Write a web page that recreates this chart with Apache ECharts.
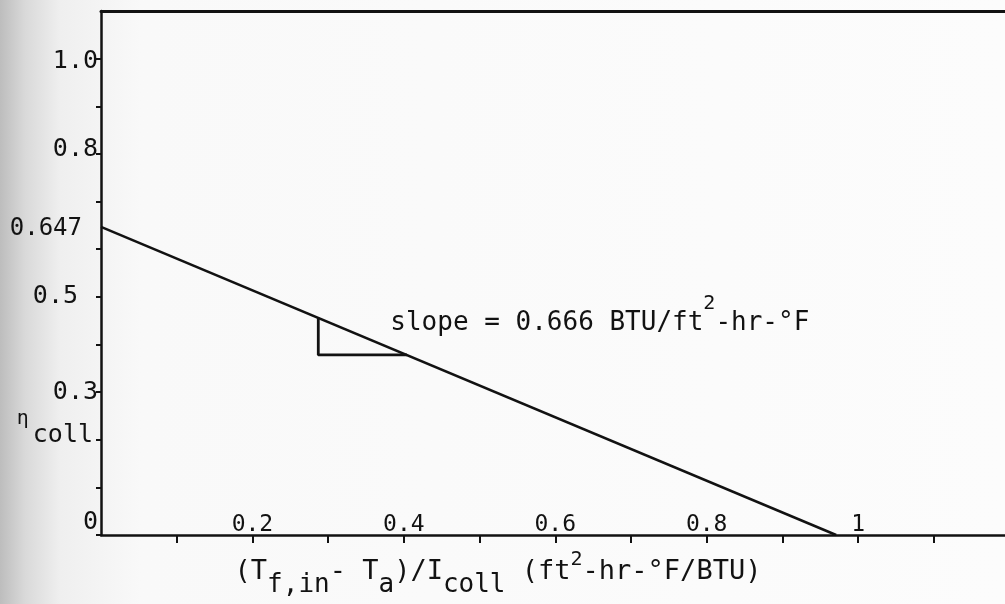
<!DOCTYPE html>
<html>
<head>
<meta charset="utf-8">
<script src="https://cdn.jsdelivr.net/npm/echarts@6/dist/echarts.min.js"></script>
<style>
  html, body { margin: 0; padding: 0; background: #fbfbfb; }
  #chart { width: 1005px; height: 604px; }
</style>
</head>
<body>
<div id="chart"></div>
<script>
// Collector efficiency line: intercept 0.647 on the efficiency axis, runs to zero
const effLineX = [0, 0.971];
const effLineY = [0.647, 0];

// Small right triangle marking the slope under the line
const slopeTriX = [0.287, 0.287, 0.404];
const slopeTriY = [0.456, 0.378, 0.378];

// Annotations
const interceptText = '0.647';
const slopeText = '{t|slope = 0.666 BTU/ft}{sup|2}{t|-hr-°F}';
const xAxisTitle = '{t|(T}{sub|f,in}{t|- T}{sub|a}{t|)/I}{sub|coll}{t| (ft}{sup|2}{t|-hr-°F/BTU)}';

// Tick labels that are written on each axis
const yLabelValues = [0, 0.2, 0.3, 0.5, 0.8, 1.0];
const yLabelTexts = ['{zero|0}', '{eta|η}{coll|coll}', '{v|0.3}', '{off|0.5}', '{up|0.8}', '{dn|1.0}'];
const xLabelValues = [0.2, 0.4, 0.6, 0.8, 1.0];
const xLabelTexts = ['0.2', '0.4', '0.6', '0.8', '1'];

const FONT = "'DejaVu Sans Mono', 'Liberation Mono', monospace";
const INK = '#121212';

const chart = echarts.init(document.getElementById('chart'), null, { renderer: 'canvas' });

function labelFor(values, texts, v) {
  const k = Math.round(v * 100);
  for (let i = 0; i < values.length; i++) {
    if (Math.round(values[i] * 100) === k) return texts[i];
  }
  return '';
}

function txt(size, extra) {
  return Object.assign({ fontFamily: FONT, fontSize: size, color: INK }, extra || {});
}

const lineData = effLineX.map((x, i) => {
  const item = { value: [x, effLineY[i]] };
  if (i === 0) {
    item.label = txt(24, {
      show: true, position: 'left', distance: 19, offset: [0, 2],
      formatter: interceptText
    });
  }
  return item;
});

const triData = slopeTriX.map((x, i) => {
  const item = { value: [x, slopeTriY[i]] };
  if (i === 0) {
    item.label = txt(26, {
      show: true, position: 'right', distance: 72, offset: [0, -9],
      formatter: slopeText,
      rich: {
        t: txt(26, { verticalAlign: 'top', lineHeight: 30, padding: [16, 0, 0, 0] }),
        sup: txt(20, { verticalAlign: 'top', lineHeight: 20 })
      }
    });
  }
  return item;
});

const option = {
  backgroundColor: new echarts.graphic.LinearGradient(0, 0, 1, 0, [
    { offset: 0, color: '#bdbdbd' },
    { offset: 0.025, color: '#d9d9d9' },
    { offset: 0.06, color: '#efefef' },
    { offset: 0.14, color: '#f9f9f9' },
    { offset: 1, color: '#fcfcfc' }
  ]),
  animation: false,
  grid: { left: 101, top: 11, width: 904, height: 524 },
  xAxis: [
    {
      type: 'value', min: 0, max: 1.194, interval: 0.1, position: 'bottom',
      axisLine: { show: true, lineStyle: { color: INK, width: 2.5 } },
      axisTick: { show: true, inside: false, length: 8, lineStyle: { color: INK, width: 2 } },
      splitLine: { show: false },
      axisLabel: txt(23, {
        show: true, inside: true, margin: -2, showMinLabel: false, showMaxLabel: false,
        lineHeight: 23,
        formatter: v => labelFor(xLabelValues, xLabelTexts, v)
      }),
      name: xAxisTitle,
      nameLocation: 'middle',
      nameGap: 15,
      nameTextStyle: txt(27, {
        padding: [0, 110, 0, 0],
        rich: {
          t: txt(27, { verticalAlign: 'top', lineHeight: 30, padding: [8, 0, 14, 0] }),
          sub: txt(26, { verticalAlign: 'top', lineHeight: 30, padding: [22, 0, 0, 0] }),
          sup: txt(20, { verticalAlign: 'top', lineHeight: 20 })
        }
      })
    },
    {
      type: 'value', min: 0, max: 1.194, position: 'top',
      axisLine: { show: true, lineStyle: { color: INK, width: 3 } },
      axisTick: { show: false },
      axisLabel: { show: false },
      splitLine: { show: false }
    }
  ],
  yAxis: {
    type: 'value', min: 0, max: 1.1, interval: 0.1,
    axisLine: { show: true, lineStyle: { color: INK, width: 2.5 } },
    axisTick: { show: true, inside: false, length: 5, lineStyle: { color: INK, width: 2 } },
    splitLine: { show: false },
    axisLabel: txt(25, {
      show: true, margin: 3, showMaxLabel: false,
      formatter: v => labelFor(yLabelValues, yLabelTexts, v),
      rich: {
        v: txt(25),
        up: txt(25, { padding: [0, 0, 8, 0] }),
        dn: txt(25, { padding: [6, 0, 0, 0] }),
        zero: txt(25, { padding: [0, 0, 26, 0] }),
        off: txt(25, { padding: [0, 20, 0, 0] }),
        eta: txt(20, { verticalAlign: 'top', lineHeight: 20 }),
        coll: txt(25, { verticalAlign: 'top', lineHeight: 62, padding: [14, 5, 0, 4] })
      }
    })
  },
  series: [
    {
      type: 'line', name: 'efficiency',
      data: lineData,
      symbol: 'circle', symbolSize: 0, showSymbol: true,
      lineStyle: { color: INK, width: 2.5 },
      z: 3
    },
    {
      type: 'line', name: 'slope marker',
      data: triData,
      symbol: 'circle', symbolSize: 0, showSymbol: true,
      lineStyle: { color: INK, width: 2.8 },
      z: 3
    }
  ]
};

chart.setOption(option);
</script>
</body>
</html>
